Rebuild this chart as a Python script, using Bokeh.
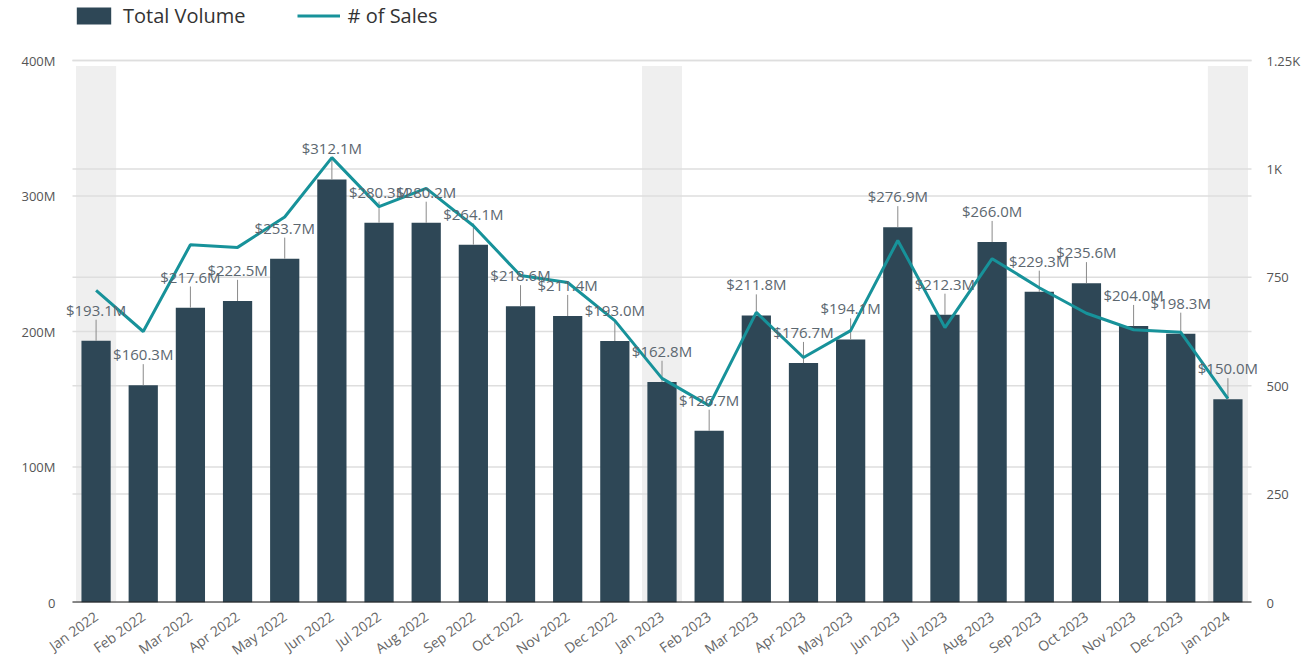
from bokeh.plotting import figure
from bokeh.models import (ColumnDataSource, Range1d, LinearAxis, FixedTicker,
                          Legend, LegendItem, LabelSet)
from bokeh.core.properties import value
from bokeh.embed import file_html
from bokeh.resources import INLINE

months = ["Jan 2022", "Feb 2022", "Mar 2022", "Apr 2022", "May 2022", "Jun 2022",
          "Jul 2022", "Aug 2022", "Sep 2022", "Oct 2022", "Nov 2022", "Dec 2022",
          "Jan 2023", "Feb 2023", "Mar 2023", "Apr 2023", "May 2023", "Jun 2023",
          "Jul 2023", "Aug 2023", "Sep 2023", "Oct 2023", "Nov 2023", "Dec 2023",
          "Jan 2024"]
volume_m = [193.1, 160.3, 217.6, 222.5, 253.7, 312.1, 280.3, 280.2, 264.1, 218.6, 211.4, 193.0,
            162.8, 126.7, 211.8, 176.7, 194.1, 276.9, 212.3, 266.0, 229.3, 235.6, 204.0, 198.3,
            150.0]
sales = [720, 625, 825, 819, 889, 1026, 913, 955, 869, 754, 738, 650,
         517, 454, 669, 565, 627, 835, 634, 793, 726, 667, 629, 623,
         470]
highlight_months = ["Jan 2022", "Jan 2023", "Jan 2024"]
left_ticks = [0, 100e6, 200e6, 300e6, 400e6]
left_tick_labels = ["0", "100M", "200M", "300M", "400M"]
right_ticks = [0, 250, 500, 750, 1000, 1250]
right_tick_labels = ["0", "250", "500", "750", "1K", "1.25K"]

FONT = "Open Sans"
BAR = "#2E4756"
LINE = "#17929A"
TXT = "#555555"
GRID = "#DEDEDE"

# ---- layout (pixels) ----
W, H = 1298, 671
CAT_L, CAT_R = 72, 1251          # pixel extent of the category band
FRAME_L, FRAME_R = 58, 1265      # frame slightly wider so edge labels are not clipped
BASE_Y = 602                      # pixel row of the zero line
AXIS_PX = 542                     # pixels spanned from 0 to the top tick
PLOT_H = BASE_Y

n = len(months)
per = (CAT_R - CAT_L) / n
x_start = -0.5 - (CAT_L - FRAME_L) / per
x_end = n - 0.5 + (FRAME_R - CAT_R) / per

y_max = left_ticks[-1]
y_end = y_max * PLOT_H / AXIS_PX
s_end = right_ticks[-1] * PLOT_H / AXIS_PX

xs = list(range(n))
volume = [v * 1e6 for v in volume_m]
whisker_len = y_max * 0.039
src = ColumnDataSource(dict(
    x=xs, vol=volume, wtop=[v + whisker_len for v in volume],
    label=["$%.1fM" % v for v in volume_m], sales=sales))

p = figure(frame_width=FRAME_R - FRAME_L, frame_height=PLOT_H,
           x_range=Range1d(x_start, x_end),
           y_range=Range1d(0, y_end), output_backend="svg", toolbar_location=None,
           min_border_left=FRAME_L, min_border_right=W - FRAME_R,
           min_border_top=0, min_border_bottom=H - BASE_Y)
p.outline_line_color = None
p.background_fill_color = "white"
p.extra_y_ranges = {"sales": Range1d(0, s_end)}
p.xgrid.grid_line_color = None
p.ygrid.grid_line_color = None

# January bands
p.vbar(x=[months.index(m) for m in highlight_months], top=y_max * 0.99, width=0.85,
       fill_color="#EFEFEF", line_color=None)

# gridlines limited to the category extent
p.segment(x0=-0.5, x1=n - 0.5, y0=left_ticks, y1=left_ticks,
          line_color=GRID, line_width=1.5)
p.segment(x0=-0.5, x1=n - 0.5, y0=right_ticks, y1=right_ticks,
          line_color=GRID, line_width=1.5, y_range_name="sales")

bars = p.vbar(x="x", top="vol", width=0.62, source=src, fill_color=BAR, line_color=None)
p.segment(x0="x", y0="vol", x1="x", y1="wtop", source=src, line_color="#8A8A8A", line_width=1)
line = p.line(x="x", y="sales", source=src, y_range_name="sales", line_color=LINE, line_width=3)

# baseline
p.segment(x0=-0.5, x1=n - 0.5, y0=0, y1=0, line_color="#222222", line_width=2)

labels = LabelSet(x="x", y="wtop", text="label", source=src, text_align="center",
                  text_baseline="bottom", y_offset=0, text_font=value(FONT),
                  text_font_size="15px", text_color="#5C6770")
p.add_layout(labels)

# axes
p.yaxis.ticker = FixedTicker(ticks=left_ticks)
p.yaxis.major_label_overrides = dict(zip(left_ticks, left_tick_labels))
ra = LinearAxis(y_range_name="sales", ticker=FixedTicker(ticks=right_ticks),
                major_label_overrides=dict(zip(right_ticks, right_tick_labels)))
p.add_layout(ra, "right")
for ax, so in [(p.yaxis[0], CAT_L - FRAME_L - 17), (ra, 9 - (FRAME_R - CAT_R))]:
    ax.axis_line_color = None
    ax.major_tick_line_color = None
    ax.minor_tick_line_color = None
    ax.major_label_text_font = FONT
    ax.major_label_text_font_size = "13px"
    ax.major_label_text_color = TXT
    ax.major_label_standoff = so

xa = p.xaxis[0]
xa.ticker = FixedTicker(ticks=xs)
xa.major_label_overrides = dict(zip(xs, months))
xa.axis_line_color = None
xa.major_tick_line_color = None
xa.minor_tick_line_color = None
xa.major_label_orientation = 0.62
xa.major_label_text_font = FONT
xa.major_label_text_font_size = "14px"
xa.major_label_text_color = "#666666"
xa.major_label_standoff = 6

legend = Legend(items=[LegendItem(label="Total Volume", renderers=[bars]),
                       LegendItem(label="# of Sales", renderers=[line])],
                orientation="horizontal", location=(CAT_L - FRAME_L, PLOT_H - 29),
                padding=0, margin=0,
                spacing=51, glyph_width=43, glyph_height=21, label_standoff=8,
                label_text_font=FONT, label_text_font_size="20px",
                label_text_color="#333333", border_line_color=None,
                background_fill_alpha=0)
p.add_layout(legend)

open("out.html", "w").write(file_html(p, INLINE))
